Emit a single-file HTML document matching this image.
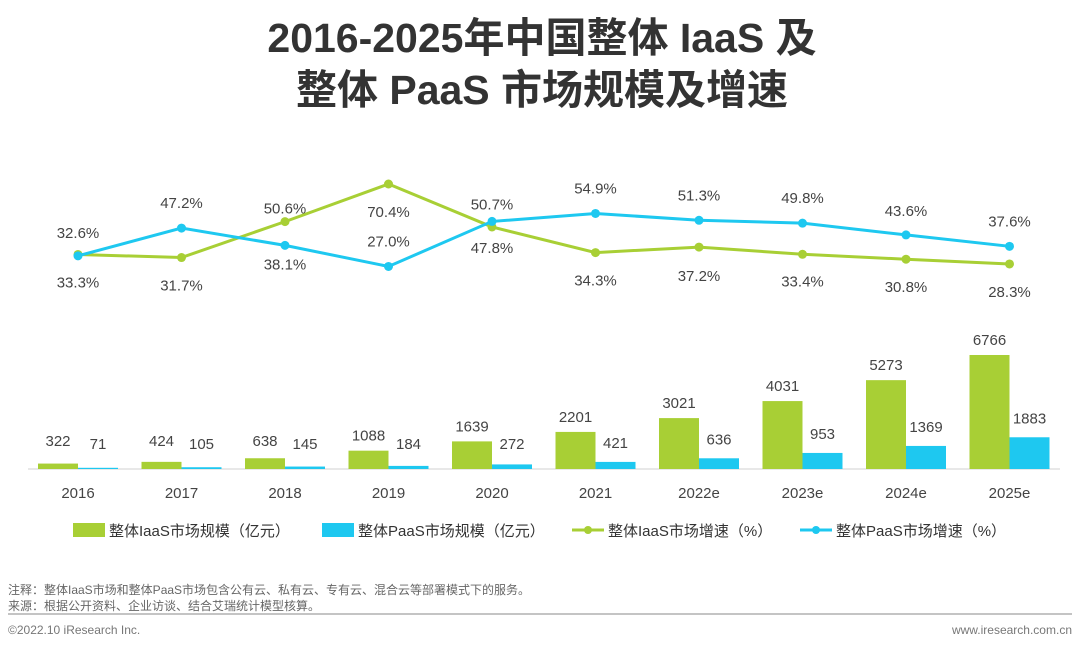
<!DOCTYPE html>
<html><head><meta charset="utf-8"><style>
body{margin:0;width:1080px;height:649px;background:#fff;overflow:hidden;font-family:"Liberation Sans","Noto Sans CJK SC",sans-serif;}
svg text{font-family:"Liberation Sans","Noto Sans CJK SC",sans-serif;}
</style></head><body>
<svg id="chart" width="1080" height="649">
<text x="542" y="52" text-anchor="middle" font-size="41" font-weight="bold" fill="#333">2016-2025年中国整体 IaaS 及</text>
<text x="542" y="104" text-anchor="middle" font-size="41" font-weight="bold" fill="#333">整体 PaaS 市场规模及增速</text>
<line x1="28" y1="469" x2="1060" y2="469" stroke="#d0d0d0" stroke-width="1"/>
<g id="bars"></g><g id="lines"></g><g id="labels"></g>
<g>
<rect x="73" y="523" width="32" height="14" fill="#a8cf35"/>
<text x="109" y="536" font-size="15" fill="#333">整体IaaS市场规模（亿元）</text>
<rect x="322" y="523" width="32" height="14" fill="#1ec8f0"/>
<text x="358" y="536" font-size="15" fill="#333">整体PaaS市场规模（亿元）</text>
<line x1="572" y1="530" x2="604" y2="530" stroke="#a8cf35" stroke-width="3"/><circle cx="588" cy="530" r="4" fill="#a8cf35"/>
<text x="608" y="536" font-size="15" fill="#333">整体IaaS市场增速（%）</text>
<line x1="800" y1="530" x2="832" y2="530" stroke="#1ec8f0" stroke-width="3"/><circle cx="816" cy="530" r="4" fill="#1ec8f0"/>
<text x="836" y="536" font-size="15" fill="#333">整体PaaS市场增速（%）</text>
</g>
<text x="8" y="594" font-size="12" fill="#666">注释：整体IaaS市场和整体PaaS市场包含公有云、私有云、专有云、混合云等部署模式下的服务。</text>
<text x="8" y="610" font-size="12" fill="#666">来源：根据公开资料、企业访谈、结合艾瑞统计模型核算。</text>
<line x1="8" y1="614" x2="1072" y2="614" stroke="#888" stroke-width="1"/>
<text x="8" y="634" font-size="12" fill="#777">©2022.10 iResearch Inc.</text>
<text x="1072" y="634" font-size="12" fill="#777" text-anchor="end">www.iresearch.com.cn</text>
</svg>
<script>
const categories=["2016","2017","2018","2019","2020","2021","2022e","2023e","2024e","2025e"];
const iaasSize=[322,424,638,1088,1639,2201,3021,4031,5273,6766];
const paasSize=[71,105,145,184,272,421,636,953,1369,1883];
const iaasGrowth=[33.3,31.7,50.6,70.4,47.8,34.3,37.2,33.4,30.8,28.3];
const paasGrowth=[32.6,47.2,38.1,27.0,50.7,54.9,51.3,49.8,43.6,37.6];
const iaasLabelOffset=[28,28,-13,28,21,28,29,27,28,28];
const paasLabelOffset=[-23,-25,19,-25,-17,-25,-25,-25,-24,-25];
const NS="http://www.w3.org/2000/svg";
const xC=i=>78+i*103.5;
const yBar=v=>469-v*0.01685;
const yLine=v=>184+(70.4-v)*1.9;
function mk(tag,attrs,parent,text){const e=document.createElementNS(NS,tag);for(const k in attrs)e.setAttribute(k,attrs[k]);if(text!==undefined)e.textContent=text;document.getElementById(parent).appendChild(e);return e;}
categories.forEach((c,i)=>{
 const x=xC(i);
 const t1=yBar(iaasSize[i]);
 let r=mk("rect",{x:x-40,y:t1,width:40,height:469-t1,fill:"#a8cf35"},"bars");
 
 
 const t2=yBar(paasSize[i]);
 r=mk("rect",{x:x,y:t2,width:40,height:469-t2,fill:"#1ec8f0"},"bars");
 
 
 let l=mk("text",{x:x-20,y:Math.min(t1-10,446),"text-anchor":"middle","font-size":15,fill:"#444"},"labels",String(iaasSize[i]));
 
 
 l=mk("text",{x:x+20,y:Math.min(t2-14,449),"text-anchor":"middle","font-size":15,fill:"#444"},"labels",String(paasSize[i]));
 
 
 l=mk("text",{x:x,y:498,"text-anchor":"middle","font-size":15,fill:"#444"},"labels",c);
 
 
});
function series(vals,offs,color,name){
 const pts=vals.map((v,i)=>xC(i)+","+yLine(v)).join(" ");
 const p=mk("polyline",{points:pts,fill:"none",stroke:color,"stroke-width":3},"lines");
 
 
 vals.forEach((v,i)=>{
  const c=mk("circle",{cx:xC(i),cy:yLine(v),r:4.5,fill:color},"lines");
  
  
  const t=mk("text",{x:xC(i),y:yLine(v)+offs[i]+5,"text-anchor":"middle","font-size":15,fill:"#444"},"labels",v.toFixed(1)+"%");
  
  
 });
}
series(iaasGrowth,iaasLabelOffset,"#a8cf35","iaas");
series(paasGrowth,paasLabelOffset,"#1ec8f0","paas");
</script>
</body></html>
